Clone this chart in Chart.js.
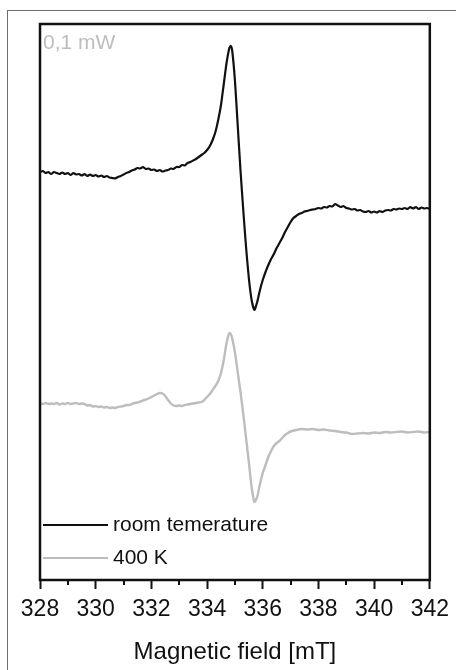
<!DOCTYPE html>
<html>
<head>
<meta charset="utf-8">
<script src="https://cdn.jsdelivr.net/npm/chart.js@4"></script>
<style>
  html, body { margin: 0; padding: 0; background: #fff; }
  #wrap { position: relative; width: 456px; height: 670px; overflow: hidden; }
  #frame { position: absolute; left: 7px; top: 10px; width: 600px; height: 800px; border: 1px solid #6e6e6e; }
  canvas { position: absolute; left: 0; top: 0; }
</style>
</head>
<body>
<div id="wrap">
  <div id="frame"></div>
  <canvas id="eprChart" width="456" height="670"></canvas>
</div>
<script>
// EPR spectra, 0,1 mW (signal in arbitrary units)
const fieldRT = [
  328.0, 328.1, 328.2, 328.3, 328.4, 328.5, 328.6, 328.7, 328.8, 328.9,
  329.0, 329.1, 329.2, 329.3, 329.4, 329.5, 329.6, 329.7, 329.8, 329.9,
  330.0, 330.1, 330.2, 330.3, 330.4, 330.5, 330.6, 330.7, 330.8, 330.9,
  331.0, 331.1, 331.2, 331.3, 331.4, 331.5, 331.6, 331.7, 331.8, 331.9,
  332.0, 332.1, 332.2, 332.3, 332.4, 332.5, 332.6, 332.7, 332.8, 332.9,
  333.0, 333.1, 333.2, 333.3, 333.4, 333.5, 333.6, 333.7, 333.8, 333.9,
  334.0, 334.1, 334.2, 334.3, 334.4, 334.5, 334.6, 334.7, 334.8, 334.85, 334.9,
  335.0, 335.1, 335.2, 335.3, 335.4, 335.5, 335.6, 335.7, 335.8, 335.9,
  336.0, 336.1, 336.2, 336.3, 336.4, 336.5, 336.6, 336.7, 336.8, 336.9,
  337.0, 337.1, 337.2, 337.3, 337.4, 337.5, 337.6, 337.7, 337.8, 337.9,
  338.0, 338.1, 338.2, 338.3, 338.4, 338.5, 338.6, 338.7, 338.8, 338.9,
  339.0, 339.1, 339.2, 339.3, 339.4, 339.5, 339.6, 339.7, 339.8, 339.9,
  340.0, 340.1, 340.2, 340.3, 340.4, 340.5, 340.6, 340.7, 340.8, 340.9,
  341.0, 341.1, 341.2, 341.3, 341.4, 341.5, 341.6, 341.7, 341.8, 341.9, 342.0
];
const signalRT = [
  408, 409, 407, 408, 406, 408, 407, 406, 407.5, 406,
  407, 405, 407, 405.5, 406, 404.5, 406, 404, 405.5, 404,
  405, 403.5, 404.5, 403, 404, 402.5, 402, 401.5, 403, 404,
  405.5, 407, 408, 409.5, 410.5, 412, 411.5, 413, 411, 411.5,
  410, 410.5, 409, 410, 408.5, 409.5, 410, 411.5, 411, 413,
  413, 415, 414.5, 417, 418, 419.5, 421, 423, 425, 427,
  430, 434, 440, 448, 460, 475, 496, 517, 532, 534, 530,
  500, 455, 410, 370, 333, 302, 280, 270, 278, 290,
  300, 308, 315, 321, 326, 332, 337, 342, 348, 353,
  358, 362, 364, 366, 367, 368.5, 369, 370, 370.5, 371,
  372, 371.5, 373, 372.5, 374, 373.5, 376, 374.5, 373, 374,
  372, 371.5, 370.5, 371, 369.5, 370, 368.5, 368, 369, 367.5,
  368.5, 367.5, 369, 368, 369.5, 370, 369.5, 371, 370.5, 371.5,
  371, 372, 371, 373, 371.5, 373, 371, 372.5, 371.5, 372, 371
];

const field400 = [
  328.0, 328.1, 328.2, 328.3, 328.4, 328.5, 328.6, 328.7, 328.8, 328.9,
  329.0, 329.1, 329.2, 329.3, 329.4, 329.5, 329.6, 329.7, 329.8, 329.9,
  330.0, 330.1, 330.2, 330.3, 330.4, 330.5, 330.6, 330.7, 330.8, 330.9,
  331.0, 331.1, 331.2, 331.3, 331.4, 331.5, 331.6, 331.7, 331.8, 331.9,
  332.0, 332.1, 332.2, 332.3, 332.4, 332.5, 332.6, 332.7, 332.8, 332.9,
  333.0, 333.1, 333.2, 333.3, 333.4, 333.5, 333.6, 333.7, 333.8, 333.9,
  334.0, 334.1, 334.2, 334.3, 334.4, 334.5, 334.6, 334.7, 334.8, 334.85, 334.9,
  335.0, 335.1, 335.2, 335.3, 335.4, 335.5, 335.6, 335.7, 335.8, 335.9,
  336.0, 336.1, 336.2, 336.3, 336.4, 336.5, 336.6, 336.7, 336.8, 336.9,
  337.0, 337.2, 337.4, 337.6, 337.8, 338.0, 338.2, 338.4, 338.6, 338.8,
  339.0, 339.2, 339.4, 339.6, 339.8, 340.0, 340.2, 340.4, 340.6, 340.8,
  341.0, 341.2, 341.4, 341.6, 341.8, 342.0
];
const signal400 = [
  177, 176, 177, 176, 176.5, 176, 177, 175.5, 176.5, 176,
  177, 176, 176.5, 177, 176, 176.5, 176, 174.5, 175, 173.5,
  174, 173, 173.5, 172.5, 173, 172, 172.5, 172, 173, 173.5,
  174, 175, 175, 176, 177, 177.5, 178.5, 179.5, 180.5, 181.5,
  183, 184.5, 186, 187, 186.5, 184, 180, 176.5, 174.5, 174,
  174.5, 174, 175, 175.5, 176, 176.5, 177, 177.5, 178, 180,
  183, 186, 190, 194, 199, 207, 220, 237, 247, 246, 242,
  228, 208, 188, 166, 142, 118, 93, 78, 83, 96,
  107, 115, 123, 129, 134, 137, 139, 142, 145, 147,
  148.5, 150, 151, 150.5, 151, 150, 150.5, 149.5, 149, 148,
  147.5, 146, 146.5, 147, 146.5, 147.5, 147, 148, 147.5, 148,
  148.5, 147.5, 148, 148.5, 147.5, 148
];

const seriesLabels = ['room temerature', '400 K'];
const xTicks = { min: 328, max: 342, step: 2 };
const powerLabel = '0,1 mW';

const FONT = "'Liberation Sans', Arial, sans-serif";

// frame, minor ticks, legend and power note
const extras = {
  id: 'extras',
  afterDraw(chart) {
    const ctx = chart.ctx;
    const a = chart.chartArea;
    const xs = chart.scales.x;
    ctx.save();

    // minor ticks at odd values
    ctx.strokeStyle = '#111';
    ctx.lineWidth = 2;
    for (let v = xTicks.min + 1; v < xTicks.max; v += xTicks.step) {
      const px = Math.round(xs.getPixelForValue(v));
      ctx.beginPath();
      ctx.moveTo(px, a.bottom);
      ctx.lineTo(px, a.bottom + 5);
      ctx.stroke();
    }

    // frame around plot
    ctx.lineWidth = 2.5;
    ctx.strokeStyle = '#111';
    ctx.strokeRect(a.left, a.top, a.right - a.left, a.bottom - a.top);

    // power note
    ctx.font = '21px ' + FONT;
    ctx.fillStyle = '#bdbdbd';
    ctx.textBaseline = 'middle';
    ctx.textAlign = 'left';
    ctx.fillText(powerLabel, a.left + 3, a.top + 19);

    // legend
    chart.data.datasets.forEach((ds, i) => {
      const y = a.bottom - 55 + i * 33;
      ctx.strokeStyle = ds.borderColor;
      ctx.lineWidth = 2;
      ctx.beginPath();
      ctx.moveTo(a.left + 3, y);
      ctx.lineTo(a.left + 68, y);
      ctx.stroke();
      ctx.fillStyle = '#111';
      ctx.fillText(ds.label, a.left + 73, y);
    });
    ctx.restore();
  }
};

document.addEventListener('DOMContentLoaded', function() {
  new Chart(document.getElementById('eprChart'), {
    type: 'line',
    data: {
      datasets: [
        {
          label: seriesLabels[0],
          data: fieldRT.map((f, i) => ({ x: f, y: signalRT[i] })),
          borderColor: '#111111',
          borderWidth: 2.2,
          pointRadius: 0,
          tension: 0.2
        },
        {
          label: seriesLabels[1],
          data: field400.map((f, i) => ({ x: f, y: signal400[i] })),
          borderColor: '#bdbdbd',
          borderWidth: 2.4,
          pointRadius: 0,
          tension: 0.2
        }
      ]
    },
    options: {
      responsive: false,
      devicePixelRatio: 1,
      animation: false,
      layout: { padding: { left: 40, right: 23, top: 24, bottom: 0 } },
      plugins: {
        legend: { display: false },
        tooltip: { enabled: false }
      },
      scales: {
        x: {
          type: 'linear',
          min: xTicks.min,
          max: xTicks.max,
          afterFit(scale) { scale.height = 90; },
          border: { display: false },
          grid: {
            drawOnChartArea: false,
            drawTicks: true,
            tickLength: 9,
            tickColor: '#111',
            tickWidth: 2
          },
          ticks: {
            stepSize: xTicks.step,
            padding: 7,
            color: '#111',
            font: { family: FONT, size: 23 },
            maxRotation: 0
          },
          title: {
            display: true,
            text: 'Magnetic field [mT]',
            color: '#111',
            font: { family: FONT, size: 24 },
            padding: { top: 0, bottom: 3 }
          }
        },
        y: {
          display: false,
          min: 0,
          max: 556
        }
      }
    },
    plugins: [extras]
  });
});
</script>
</body>
</html>
